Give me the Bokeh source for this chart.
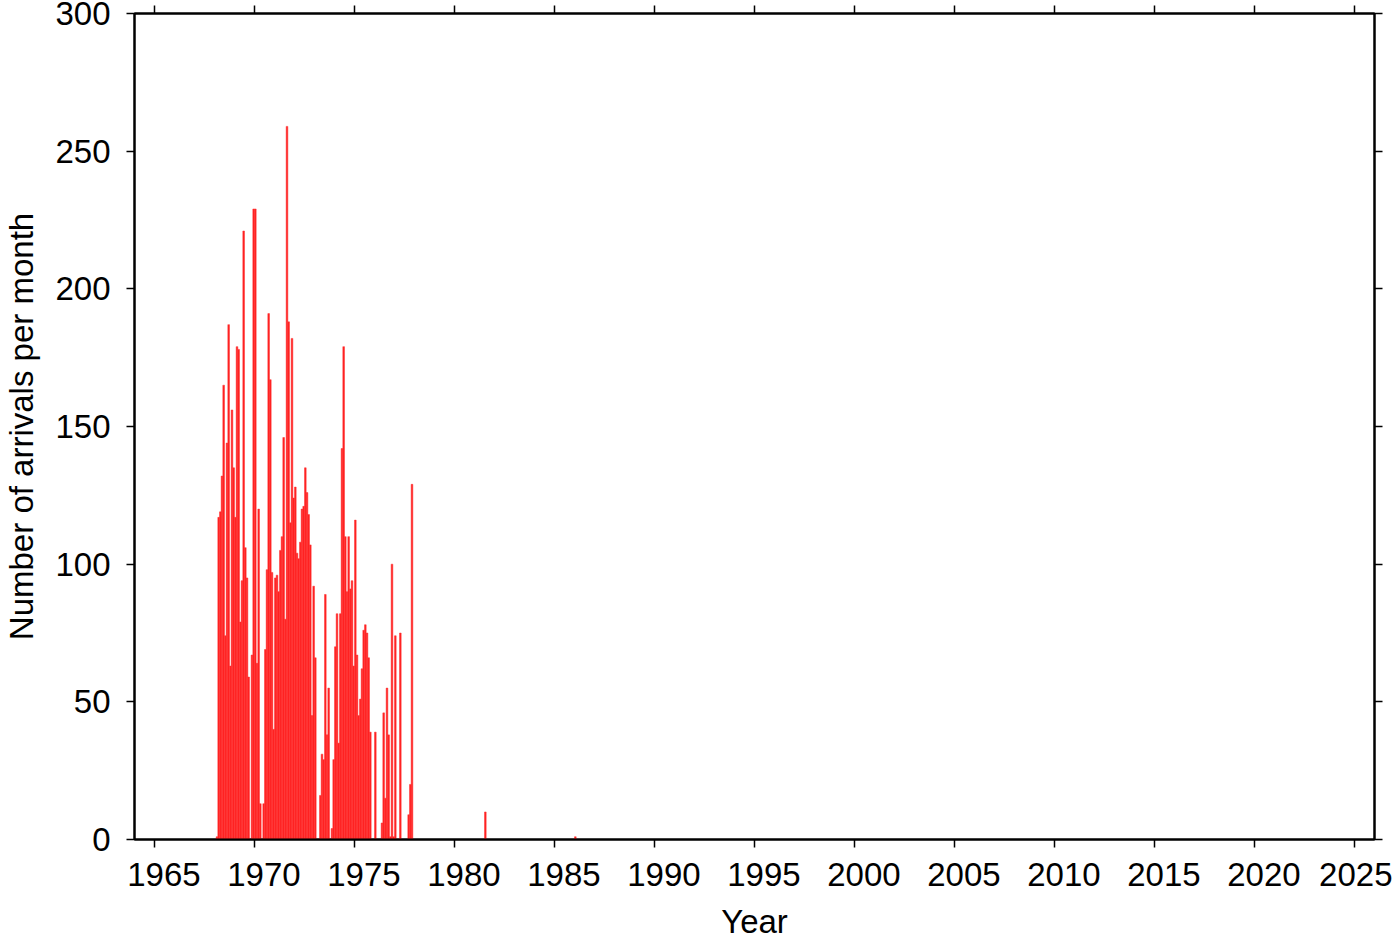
from bokeh.plotting import figure
from bokeh.models import LinearAxis, FixedTicker, Range1d, ColumnDataSource, CustomJSTickFormatter
from bokeh.embed import file_html
from bokeh.resources import INLINE

# Monthly arrival counts starting January 1968 (one value per month)
start_year = 1968
monthly_counts = [
    0, 1, 117, 119, 132, 165, 74, 144, 187, 63, 156, 135,      # 1968
    117, 179, 178, 79, 94, 221, 106, 95, 59, 0, 67, 229,       # 1969
    229, 64, 120, 13, 0, 13, 69, 98, 191, 167, 97, 40,         # 1970
    95, 96, 90, 105, 110, 146, 80, 259, 188, 115, 182, 124,    # 1971
    128, 104, 102, 108, 120, 121, 135, 126, 118, 107, 45, 92,  # 1972
    66, 0, 0, 16, 31, 29, 89, 38, 55, 0, 4, 29,                # 1973
    70, 82, 35, 82, 142, 179, 110, 90, 110, 91, 94, 63,        # 1974
    116, 67, 45, 51, 62, 76, 78, 75, 66, 39, 0, 0,             # 1975
    39, 0, 0, 0, 6, 46, 15, 55, 38, 1, 100, 1,                 # 1976
    74, 0, 0, 75, 0, 0, 0, 0, 9, 20, 129,                      # 1977
]

# Isolated later months
extra_years = [1981, 1986]
extra_months = [7, 1]
extra_counts = [10, 1]

x_ticks = [1965, 1970, 1975, 1980, 1985, 1990, 1995, 2000, 2005, 2010, 2015, 2020, 2025]
y_ticks = [0, 50, 100, 150, 200, 250, 300]
x_title = "Year"
y_title = "Number of arrivals per month"

lefts, rights, tops = [], [], []
for i, c in enumerate(monthly_counts):
    if c > 0:
        l = start_year + i / 12.0
        lefts.append(l)
        rights.append(l + 1 / 12.0)
        tops.append(c)
for yr, mo, c in zip(extra_years, extra_months, extra_counts):
    l = yr + (mo - 1) / 12.0
    lefts.append(l)
    rights.append(l + 1 / 12.0)
    tops.append(c)

src = ColumnDataSource(dict(left=lefts, right=rights, top=tops, bottom=[0] * len(tops)))

FONT = "Liberation Sans"
X0, X1 = 1964, 2026
Y0, Y1 = 0, 300
LABEL_SHIFT = 0.47  # tick annotations sit slightly right of their ticks

p = figure(width=1392, height=942, output_backend="svg", toolbar_location=None,
           x_range=Range1d(X0, X1), y_range=Range1d(Y0, Y1),
           min_border_left=134, min_border_right=18, min_border_top=13, min_border_bottom=103)
p.extra_x_ranges = {"lab": Range1d(X0 - LABEL_SHIFT, X1 - LABEL_SHIFT)}

p.quad(left="left", right="right", top="top", bottom="bottom", source=src,
       fill_color="#ff2020", line_color="#ff3030", line_width=0.5)

p.grid.visible = False
p.outline_line_color = "black"
p.outline_line_width = 2
p.background_fill_color = "white"
p.border_fill_color = "white"

blank = CustomJSTickFormatter(code="return ''")


def style_ticks(ax, out=8):
    ax.axis_line_width = 2
    ax.axis_line_color = "black"
    ax.major_tick_line_width = 1.5
    ax.major_tick_out = out
    ax.major_tick_in = 0
    ax.minor_tick_out = 0
    ax.minor_tick_in = 0


def style_text(ax):
    ax.major_label_text_font = FONT
    ax.major_label_text_font_size = "33px"
    ax.major_label_text_color = "black"
    ax.axis_label_text_font = FONT
    ax.axis_label_text_font_size = "33px"
    ax.axis_label_text_font_style = "normal"
    ax.axis_label_text_color = "black"


# bottom: tick marks only
xb = p.xaxis[0]
xb.ticker = FixedTicker(ticks=x_ticks)
style_ticks(xb)
xb.formatter = blank
xb.major_label_text_font_size = "1px"
xb.major_label_standoff = 0

# bottom: annotations and title
xl = LinearAxis(x_range_name="lab", ticker=FixedTicker(ticks=x_ticks))
xl.axis_line_color = None
xl.major_tick_line_color = None
xl.minor_tick_line_color = None
xl.major_tick_out = 0
xl.major_tick_in = 0
style_text(xl)
xl.major_label_standoff = 15
xl.axis_label = x_title
xl.axis_label_standoff = 14
p.add_layout(xl, "below")

# left
yl = p.yaxis[0]
yl.ticker = FixedTicker(ticks=y_ticks)
style_ticks(yl)
style_text(yl)
yl.axis_label = y_title
yl.major_label_standoff = 16
yl.axis_label_standoff = 12

# top and right: tick marks only
top_ax = LinearAxis(ticker=FixedTicker(ticks=x_ticks), formatter=blank,
                    major_label_text_font_size="1px", major_label_standoff=0)
style_ticks(top_ax)
right_ax = LinearAxis(ticker=FixedTicker(ticks=y_ticks), formatter=blank,
                      major_label_text_font_size="1px", major_label_standoff=0)
style_ticks(right_ax)
p.add_layout(top_ax, "above")
p.add_layout(right_ax, "right")

open("out.html", "w").write(file_html(p, INLINE))
